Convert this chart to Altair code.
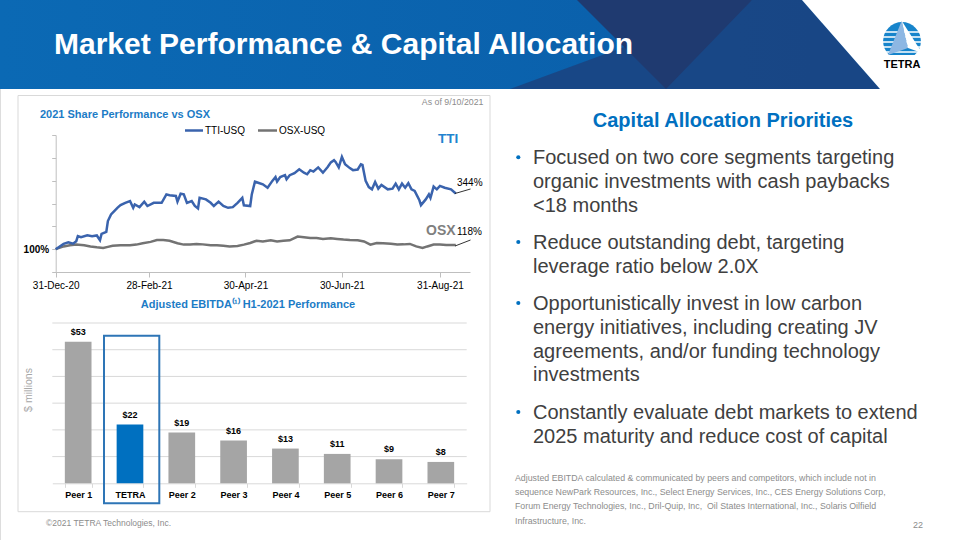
import altair as alt
import pandas as pd

FONT = "Liberation Sans"
W, H = 960, 540

# ---------------- data ----------------
tti_dates = ["2020-12-31", "2021-01-05", "2021-01-08", "2021-01-11", "2021-01-13", "2021-01-14",
             "2021-01-16", "2021-01-20", "2021-01-23", "2021-01-26", "2021-01-28", "2021-01-29",
             "2021-02-01", "2021-02-02", "2021-02-04", "2021-02-08", "2021-02-10", "2021-02-13",
             "2021-02-16", "2021-02-18", "2021-02-19", "2021-02-22", "2021-02-25", "2021-02-27",
             "2021-03-03", "2021-03-08", "2021-03-11", "2021-03-13", "2021-03-17", "2021-03-18",
             "2021-03-20", "2021-03-22", "2021-03-24", "2021-03-27", "2021-03-29", "2021-03-31",
             "2021-04-01", "2021-04-05", "2021-04-08", "2021-04-10", "2021-04-13", "2021-04-16",
             "2021-04-19", "2021-04-22", "2021-04-25", "2021-04-28", "2021-04-29", "2021-05-03",
             "2021-05-04", "2021-05-06", "2021-05-08", "2021-05-11", "2021-05-14", "2021-05-17",
             "2021-05-19", "2021-05-20", "2021-05-22", "2021-05-25", "2021-05-26", "2021-05-28",
             "2021-05-31", "2021-06-03", "2021-06-06", "2021-06-08", "2021-06-10", "2021-06-12",
             "2021-06-15", "2021-06-18", "2021-06-21", "2021-06-23", "2021-06-25", "2021-06-26",
             "2021-06-28", "2021-06-30", "2021-07-02", "2021-07-05", "2021-07-07", "2021-07-10",
             "2021-07-12", "2021-07-13", "2021-07-15", "2021-07-17", "2021-07-19", "2021-07-21",
             "2021-07-23", "2021-07-25", "2021-07-29", "2021-08-01", "2021-08-03", "2021-08-05",
             "2021-08-07", "2021-08-09", "2021-08-11", "2021-08-13", "2021-08-15", "2021-08-18",
             "2021-08-19", "2021-08-22", "2021-08-24", "2021-08-25", "2021-08-27", "2021-08-29",
             "2021-08-31", "2021-09-03", "2021-09-07", "2021-09-10"]
tti_values = [100, 123, 130, 124, 135, 157,
              152, 161, 157, 160, 139, 167,
              176, 223, 252, 281, 293, 303,
              311, 281, 296, 284, 308, 289,
              303, 303, 340, 336, 333, 308,
              343, 340, 303, 311, 289, 278,
              325, 318, 303, 289, 308, 289,
              281, 284, 303, 325, 292, 289,
              340, 396, 391, 384, 369, 399,
              416, 396, 416, 424, 406, 424,
              433, 450, 435, 428, 446, 440,
              458, 435, 460, 480, 490, 482,
              458, 504, 472, 455, 446, 449,
              472, 469, 399, 372, 362, 394,
              365, 381, 362, 365, 387, 362,
              387, 369, 389, 362, 355, 314,
              293, 318, 340, 325, 374, 362,
              377, 369, 362, 344]

osx_dates = ["2020-12-31", "2021-01-05", "2021-01-09", "2021-01-13", "2021-01-18", "2021-01-22",
             "2021-01-26", "2021-01-30", "2021-02-02", "2021-02-05", "2021-02-10", "2021-02-16",
             "2021-02-20", "2021-02-24", "2021-03-01", "2021-03-05", "2021-03-09", "2021-03-13",
             "2021-03-18", "2021-03-22", "2021-03-26", "2021-03-30", "2021-04-03", "2021-04-08",
             "2021-04-12", "2021-04-16", "2021-04-20", "2021-04-25", "2021-04-29", "2021-05-03",
             "2021-05-07", "2021-05-11", "2021-05-16", "2021-05-20", "2021-05-24", "2021-05-28",
             "2021-06-02", "2021-06-06", "2021-06-10", "2021-06-14", "2021-06-18", "2021-06-23",
             "2021-06-27", "2021-07-01", "2021-07-05", "2021-07-10", "2021-07-14", "2021-07-18",
             "2021-07-22", "2021-07-26", "2021-07-31", "2021-08-04", "2021-08-08", "2021-08-12",
             "2021-08-16", "2021-08-20", "2021-08-23", "2021-08-27", "2021-08-31", "2021-09-04",
             "2021-09-10"]
osx_values = [100, 112, 117, 120, 117, 112,
              108, 105, 110, 115, 117, 117,
              120, 126, 132, 140, 140, 137,
              126, 120, 120, 123, 121, 117,
              117, 115, 112, 114, 120, 127,
              137, 134, 139, 134, 137, 139,
              155, 152, 149, 149, 145, 148,
              145, 142, 140, 139, 134, 120,
              127, 126, 124, 120, 121, 123,
              112, 105, 112, 120, 120, 118,
              118]

x_tick_dates = ["2020-12-31", "2021-02-28", "2021-04-30", "2021-06-30", "2021-08-31"]
y_ticks = [0, 100, 200, 300, 400, 500, 600]

peers = ["Peer 1", "TETRA", "Peer 2", "Peer 3", "Peer 4", "Peer 5", "Peer 6", "Peer 7"]
ebitda = [53, 22, 19, 16, 13, 11, 9, 8]
ebitda_labels = ["$53", "$22", "$19", "$16", "$13", "$11", "$9", "$8"]
bar_grid = [10, 20, 30, 40, 50, 60]

bullets = [
    ["Focused on two core segments targeting", "organic investments with cash paybacks", "<18 months"],
    ["Reduce outstanding debt, targeting", "leverage ratio below 2.0X"],
    ["Opportunistically invest in low carbon", "energy initiatives, including creating JV",
     "agreements, and/or funding technology", "investments"],
    ["Constantly evaluate debt markets to extend", "2025 maturity and reduce cost of capital"],
]
footnote = [
    "Adjusted EBITDA calculated & communicated by peers and competitors, which include not in",
    "sequence NewPark Resources, Inc., Select Energy Services, Inc., CES Energy Solutions Corp,",
    "Forum Energy Technologies, Inc., Dril-Quip, Inc,\u00a0 Oil States International, Inc., Solaris Oilfield",
    "Infrastructure, Inc.",
]

# ---------------- helpers ----------------
one = pd.DataFrame({"k": [0]})


def dt(s):
    y, m, d = (int(p) for p in s.split("-"))
    return alt.DateTime(year=y, month=m, date=d)


def T(s, x, y, size, color="#000000", weight="normal", align="left", baseline="alphabetic", angle=0):
    return alt.Chart(one).mark_text(text=s, font=FONT, fontSize=size, color=color, fontWeight=weight,
                                    align=align, baseline=baseline, angle=angle).encode(
        x=alt.value(x), y=alt.value(y))


def R(x1, y1, x2, y2, color, w=1.0):
    return alt.Chart(one).mark_rule(color=color, strokeWidth=w).encode(
        x=alt.value(x1), y=alt.value(y1), x2=alt.value(x2), y2=alt.value(y2))


def BOX(x1, y1, x2, y2, fill="#ffffff", stroke=None, sw=1.0, fo=1.0):
    kw = dict(fill=fill, fillOpacity=fo)
    if stroke:
        kw.update(stroke=stroke, strokeWidth=sw)
    return alt.Chart(one).mark_rect(**kw).encode(
        x=alt.value(x1), x2=alt.value(x2), y=alt.value(y1), y2=alt.value(y2))


def POLY(xs, tops, bots, color, op=1.0):
    d = pd.DataFrame({"x": xs, "y": tops, "y2": bots})
    return alt.Chart(d).mark_area(color=color, interpolate="linear", opacity=op).encode(
        x=alt.X("x:Q", scale=None, axis=None),
        y=alt.Y("y:Q", scale=None, axis=None, stack=None),
        y2="y2:Q")


L = []

# ---------------- header banner ----------------
grad = alt.Gradient(gradient="linear", x1=0, x2=1, y1=0, y2=0,
                    stops=[alt.GradientStop(color="#0b69b4", offset=0),
                           alt.GradientStop(color="#0a5ca7", offset=1)])
L.append(alt.Chart(one).mark_rect(color=grad).encode(
    x=alt.value(0), x2=alt.value(960), y=alt.value(0), y2=alt.value(89)))
L.append(POLY([510, 752, 802, 880], [89, 0, 0, 89], [89, 89, 89, 89], "#1d3f7a", 0.75))
L.append(POLY([577, 666, 752], [0, 0, 0], [0, 89, 0], "#1f3a70", 1.0))
L.append(POLY([802, 880, 960], [0, 0, 0], [0, 89, 89], "#ffffff"))
L.append(T("Market Performance & Capital Allocation", 54, 54, 30, "#ffffff", "bold"))

# logo
L.append(alt.Chart(one).mark_point(filled=True, shape="circle", size=1430, color="#1684cb", opacity=1).encode(
    x=alt.value(902), y=alt.value(41)))
for yy in [32, 37, 42, 47, 52]:
    L.append(R(878, yy, 926, yy, "#ffffff", 1.6))
L.append(BOX(876, 55, 928, 64))
L.append(POLY([888, 901.7, 908], [55, 20.7, 48], [55, 50.2, 48], "#8db7e3"))
L.append(POLY([901.7, 908, 922], [20.7, 30.7, 53], [20.7, 48, 53], "#ffffff"))
L.append(T("TETRA", 902, 68, 11, "#000000", "bold", align="center"))

# ---------------- left panel frame ----------------
L.append(BOX(18, 95.5, 490, 511.7, fill="#ffffff", stroke="#d9d9d9", sw=1, fo=0))

# ---------------- line chart ----------------
line_df = pd.concat([
    pd.DataFrame({"date": pd.to_datetime(osx_dates), "value": osx_values, "series": "OSX-USQ"}),
    pd.DataFrame({"date": pd.to_datetime(tti_dates), "value": tti_values, "series": "TTI-USQ"}),
])
xs_line = alt.Scale(domain=[dt("2020-12-31"), dt("2021-09-19")], range=[55.7, 470])
ys_line = alt.Scale(domain=[0, 600], range=[272, 135], nice=False, zero=False)

x_axis = alt.Axis(orient="bottom", offset=-268, values=[dt(s) for s in x_tick_dates], format="%d-%b-%y",
                  labelFont=FONT, labelFontSize=10, labelColor="#000000", labelPadding=3,
                  tickSize=5, tickColor="#bfbfbf", domainColor="#bfbfbf", grid=False, title=None,
                  labelFlush=False, labelOverlap=False)
y_axis = alt.Axis(orient="left", offset=-55.7, values=y_ticks,
                  labelExpr="datum.value == 100 ? '100%' : ''",
                  labelFont=FONT, labelFontSize=10, labelFontWeight="bold", labelColor="#000000",
                  labelPadding=3, tickSize=4, tickColor="#bfbfbf", domainColor="#bfbfbf",
                  grid=False, title=None, labelBaseline="middle")

L.append(alt.Chart(line_df[line_df.series == "OSX-USQ"]).mark_line(color="#737373", strokeWidth=2.5).encode(
    x=alt.X("date:T", scale=xs_line, axis=x_axis),
    y=alt.Y("value:Q", scale=ys_line, axis=y_axis)))
L.append(alt.Chart(line_df[line_df.series == "TTI-USQ"]).mark_line(color="#3a63ad", strokeWidth=2.5).encode(
    x=alt.X("date:T", scale=xs_line, axis=None),
    y=alt.Y("value:Q", scale=ys_line, axis=None)))

# line chart texts
L.append(T("As of 9/10/2021", 483.5, 105, 8.8, "#8c8c8c", align="right"))
L.append(T("2021 Share Performance vs OSX", 40, 117.7, 11, "#1c7cc6", "bold"))
L.append(R(185, 130.5, 203, 130.5, "#3a63ad", 2.5))
L.append(T("TTI-USQ", 205, 134.3, 10, "#000000"))
L.append(R(258, 130.5, 277, 130.5, "#737373", 2.5))
L.append(T("OSX-USQ", 279, 134.3, 10, "#000000"))
L.append(T("TTI", 438, 142.5, 13.5, "#2183cf", "bold"))
L.append(T("OSX", 426, 234.5, 14, "#7f7f7f", "bold"))
L.append(R(455, 193.5, 470.5, 189, "#000000", 0.8))
L.append(T("344%", 457, 185.7, 10, "#000000"))
L.append(R(455, 246, 470.5, 240, "#000000", 0.8))
L.append(T("118%", 457, 235, 10, "#000000"))

# ---------------- bar chart ----------------
bar_df = pd.DataFrame({"peer": peers, "v": ebitda, "lab": ebitda_labels,
                       "c": ["#0070c0" if p == "TETRA" else "#a5a5a5" for p in peers]})
xs_bar = alt.Scale(domain=peers, range=[52.3, 466.7], paddingInner=0.485, paddingOuter=0.242)
ys_bar = alt.Scale(domain=[0, 60], range=[483.3, 323], nice=False, zero=True)

L.append(alt.Chart(pd.DataFrame({"g": bar_grid})).mark_rule(color="#d9d9d9", strokeWidth=1).encode(
    y=alt.Y("g:Q", scale=ys_bar, axis=None), x=alt.value(52.3), x2=alt.value(466.7)))
bar_axis = alt.Axis(orient="bottom", offset=-56.7, labelFont=FONT, labelFontSize=9, labelFontWeight="bold",
                    labelColor="#000000", labelPadding=3, tickSize=4, tickColor="#d9d9d9",
                    domainColor="#d9d9d9", tickBand="extent", grid=False, title=None, labelAngle=0)
L.append(alt.Chart(bar_df).mark_bar().encode(
    x=alt.X("peer:N", sort=peers, scale=xs_bar, axis=bar_axis),
    y=alt.Y("v:Q", scale=ys_bar, axis=None, stack=None),
    color=alt.Color("c:N", scale=None)))
L.append(alt.Chart(bar_df).mark_text(font=FONT, fontSize=9, fontWeight="bold", color="#000000",
                                     baseline="alphabetic", dy=-7).encode(
    x=alt.X("peer:N", sort=peers, scale=xs_bar, axis=None),
    y=alt.Y("v:Q", scale=ys_bar, axis=None, stack=None),
    text="lab:N"))
L.append(BOX(104, 335.7, 159.3, 503.3, fill="#ffffff", stroke="#2e75b6", sw=2, fo=0))
L.append(T("Adjusted EBITDA\u207d\u00b9\u207e  H1-2021 Performance", 248, 307.7, 11, "#1c7cc6", "bold",
           align="center"))
L.append(T("$ millions", 31.5, 390, 10.5, "#a6a6a6", align="center", angle=270))

# ---------------- right panel ----------------
L.append(T("Capital Allocation Priorities", 723, 127.3, 20, "#0070c0", "bold", align="center"))
first_baselines = [164.3, 249, 310, 419]
for lines, b0 in zip(bullets, first_baselines):
    L.append(alt.Chart(one).mark_circle(size=17, color="#0070c0", opacity=1).encode(
        x=alt.value(518.3), y=alt.value(b0 - 7)))
    for i, s in enumerate(lines):
        L.append(T(s, 533, b0 + i * 23.8, 20, "#404040"))

for i, s in enumerate(footnote):
    L.append(T(s, 515, 481 + i * 14.2, 8.8, "#8c8c8c"))
L.append(T("22", 918, 528, 9, "#8c8c8c", align="center"))
L.append(T("\u00a92021 TETRA Technologies, Inc.", 46, 525.5, 8.5, "#8c8c8c"))

chart = alt.layer(*L).resolve_scale(x="independent", y="independent", color="independent").properties(
    width=W, height=H, autosize=alt.AutoSizeParams(type="none"), padding=0
).configure_view(stroke=None).configure(background="#ffffff")

chart.save("out.html", embed_options={"renderer": "svg", "actions": False})
